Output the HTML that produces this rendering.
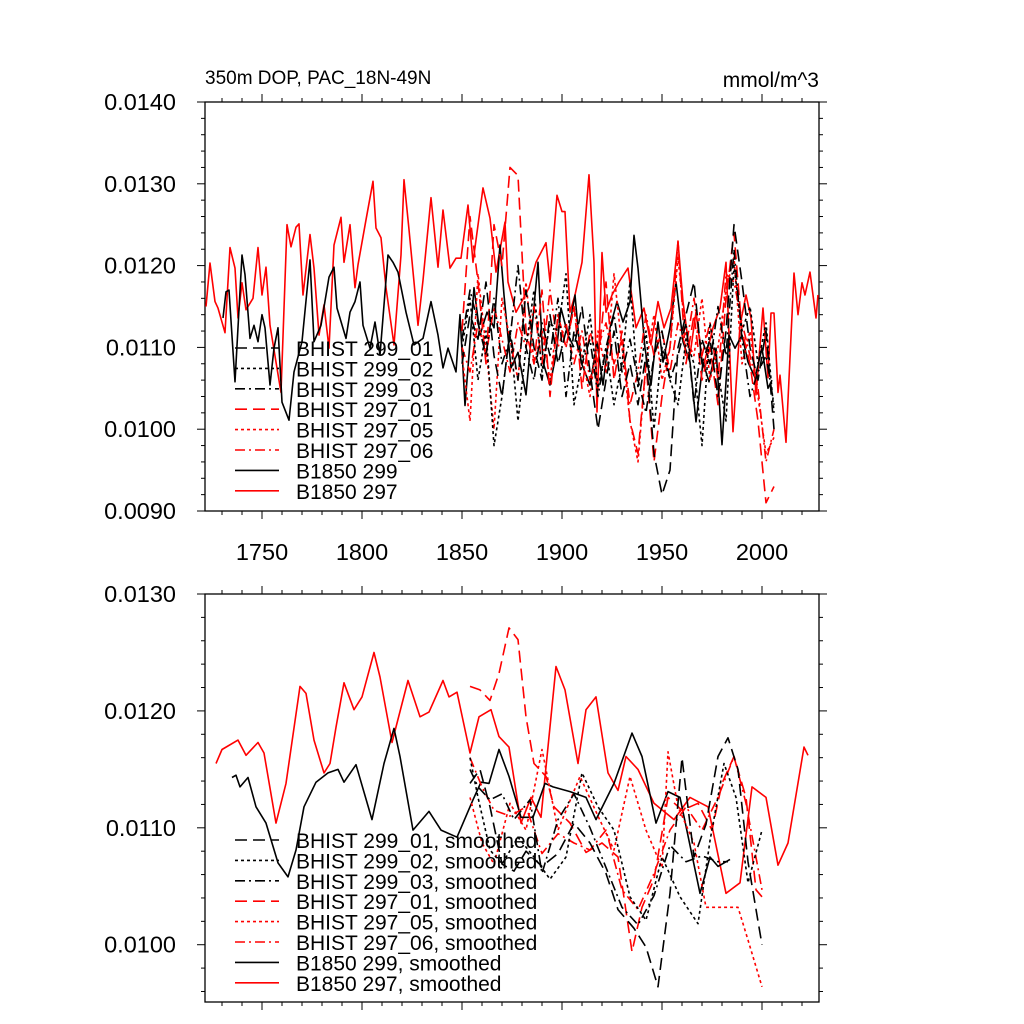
<!DOCTYPE html>
<html><head><meta charset="utf-8"><style>
html,body{margin:0;padding:0;background:#fff;}
svg{display:block;font-family:"Liberation Sans",sans-serif;}
</style></head><body>
<svg id="chart" width="1024" height="1024" viewBox="0 0 1024 1024"></svg>
<script>
// ---------- data (values in units of 1e-4 mmol/m^3) ----------
const redSolidYears=[1722,1724,1726.5,1728,1731.5,1734,1736.5,1738,1740,1742,1745.5,1748,1750,1752,1754,1757,1759.5,1762.5,1764.5,1767,1768.5,1770.5,1774,1776,1778.5,1781,1783.5,1786,1789.5,1791,1794,1796.5,1798,1802,1805.5,1807,1809.5,1812,1816,1819.5,1821,1823.5,1826,1828,1830.5,1834.5,1838,1840.5,1844,1847,1849.5,1853,1855.5,1860.5,1864,1867,1871.5,1873,1877,1883.5,1887,1892,1894,1897.5,1900,1901.5,1904,1906.5,1910,1913.5,1916,1917.5,1920,1922,1925,1928.5,1933,1937,1941,1944.5,1948,1951,1954.5,1958,1960.5,1964,1967,1970.5,1975.5,1979,1982,1985.5,1989,1992,1994.5,1997,2000.5,2003,2004.5,2006,2008,2009,2012,2016,2018,2020,2021.5,2024,2027,2028];
const redSolidVals=[115.0,120.3,115.6,114.8,111.8,122.2,119.7,113.6,117.9,114.6,116.0,122.2,116.4,119.8,112.7,108.2,104.5,125.0,122.3,124.7,125.1,116.4,123.8,119.7,111.5,115.2,109.9,122.5,125.9,120.4,125.0,117.3,120.1,125.6,130.3,124.6,123.4,117.3,110.3,121.3,130.5,124.4,118.0,112.7,118.2,128.3,119.8,126.8,119.7,120.9,120.9,127.4,120.4,129.5,125.8,119.2,125.3,118.0,114.3,117.3,120.4,122.8,118.0,128.6,126.6,126.6,114.3,116.4,120.4,131.1,120.4,102.1,121.6,114.3,116.4,118.0,119.7,112.4,114.8,110.3,115.6,112.4,114.8,122.9,115.6,109.1,114.3,107.5,112.4,114.8,120.4,99.7,112.7,116.4,113.6,104.2,114.8,106.3,114.2,114.2,104.5,106.6,98.4,119.1,114.0,117.9,116.4,119.2,113.6,116.4];
const blackSolidYears=[1730.5,1732,1733.5,1736.5,1740,1741.5,1744,1746,1748,1750,1751.5,1754,1756,1758,1760,1763.5,1766,1770,1774,1776,1779.5,1783.5,1786,1787.5,1792,1794,1796.5,1799,1800.5,1804,1806.5,1809,1813,1815.5,1818,1822,1826,1830.5,1834.5,1838,1840.5,1843,1847,1849,1851.5,1853.5,1856,1859,1862.5,1866,1869,1871,1874.5,1878,1882,1888,1890.5,1894,1897,1899.5,1903,1906.5,1909.5,1914,1917.5,1920.5,1924,1927.5,1930.5,1934,1936,1938,1941.5,1944.5,1948,1950.5,1954,1957,1960.5,1964,1967,1970.5,1973.5,1977,1980,1983.5,1986.5,1990,1993,1996.5,2000,2003,2005];
const blackSolidVals=[113.6,116.8,117.0,105.8,121.3,118.9,111.1,112.7,110.7,114.0,112.4,105.4,109.9,112.4,103.3,101.1,107.0,110.7,120.7,110.7,112.7,118.6,119.8,114.8,111.1,114.3,115.6,118.0,112.7,109.9,113.1,109.1,121.3,120.4,119.2,114.3,110.3,111.1,115.6,111.5,107.5,109.9,107.0,114.0,102.9,109.1,117.3,111.5,114.3,112.4,122.5,116.4,107.5,109.4,104.2,120.4,108.2,105.4,109.1,114.8,111.5,116.4,108.2,105.4,110.7,105.4,112.4,115.6,113.1,115.6,123.7,119.7,109.9,105.4,113.1,108.2,112.4,118.0,110.7,108.2,100.9,108.2,105.8,109.9,98.1,111.5,109.9,111.5,108.2,106.3,109.9,105.0,106.0];
const histYears=[1850,1854,1858,1862,1866,1870,1874,1878,1882,1886,1890,1894,1898,1902,1906,1910,1914,1918,1922,1926,1930,1934,1938,1942,1946,1950,1954,1958,1962,1966,1970,1974,1978,1982,1986,1990,1994,1998,2002,2006];
const h299_01=[108,114,111,118,109,104,112,106,117,110,106,114,108,112,110,115,107,100,106,112,104,108,103,109,97,92,95,110,114,118,108,111,104,112,125,118,110,106,112,100];
const h299_02=[110,116,106,112,98,104,112,101,110,117,107,113,112,119,103,108,114,105,110,103,108,118,105,112,100,110,106,103,111,108,98,113,107,101,120,112,115,108,113,102];
const h299_03=[111,117,113,109,116,108,111,120,110,106,113,109,116,104,112,108,111,104,110,114,107,111,106,102,109,112,106,109,113,103,111,108,115,109,122,111,104,107,109,103];
const h297_01=[112,126,118,108,125,120,132,131,112,108,117,104,114,110,115,105,112,108,118,106,112,101,97,108,96,104,110,123,108,114,106,110,103,116,124,112,108,101,91,93];
const h297_05=[109,101,119,110,100,116,111,106,118,108,112,106,114,110,115,109,104,112,107,119,110,101,96,108,114,106,110,121,111,109,116,106,110,117,121,108,112,104,97,99];
const h297_06=[110,107,113,109,115,111,107,113,110,115,108,117,110,113,108,112,106,110,113,108,111,103,107,114,109,112,107,113,110,116,109,113,106,119,118,113,109,105,96,100];
// smoothed
const sRedYears=[1727,1730,1738,1742,1748,1751,1757,1762,1769,1772,1776,1781,1784,1787,1791,1796,1800,1806,1809,1815,1823,1829,1833.5,1840.5,1843.5,1847.5,1854,1858.5,1864.5,1868.5,1873.5,1879.5,1884.5,1889.5,1897,1901.5,1908,1912,1917,1923,1928,1932,1938,1946,1956,1964,1973,1982,1989,1995,2002,2008,2013,2021,2023];
const sRedVals=[115.5,116.7,117.5,116.2,117.3,116.4,110.4,113.8,122.1,121.5,117.5,114.7,115.5,118.6,122.4,120.1,121.2,125.0,122.9,117.3,122.6,119.5,119.9,122.6,121.2,121.6,116.4,119.5,120.1,117.8,116.9,110.4,112.6,110.9,123.8,121.8,115.5,120.1,121.2,114.7,113.2,116.1,115.0,112.1,110.7,112.6,111.8,104.4,105.3,113.5,112.6,106.8,108.7,116.9,116.2];
const sBlackYears=[1735,1737,1739,1743,1747,1752,1758,1763,1767,1771,1777,1783,1788,1791,1797,1805,1811,1816,1819,1825.5,1833.5,1839.5,1847.5,1855.5,1859.5,1863.5,1868.5,1873.5,1879.5,1885.5,1891.5,1895.5,1904,1912,1917,1926,1935,1940,1947,1953,1959,1969,1974,1978,1984];
const sBlackVals=[114.3,114.5,113.5,114.3,111.8,110.4,107.0,105.8,108.1,111.8,113.9,114.7,115.0,113.9,115.4,110.7,115.5,118.5,116.1,109.8,111.4,109.8,109.2,112.4,113.9,113.8,116.7,114.4,110.9,110.9,113.8,113.5,113.1,112.6,110.7,113.8,118.1,116.1,110.4,113.1,112.6,104.4,107.5,106.7,107.3];
const s297_01Years=[1854,1859,1864,1868.5,1873.5,1878,1882,1886,1892,1896,1904,1912,1920,1928,1935,1940,1946,1953,1960,1968,1975,1980,1986,1992,1997,2000];
const s297_01Vals=[122.1,121.8,120.9,123.2,127.1,126.1,119.5,115.5,114.4,111.8,110.4,107.9,108.7,107.5,99.4,103.2,105.6,112.6,111.5,112.1,109.8,113.8,116.1,112.6,104.7,104.1];
const s299_01Years=[1854,1859,1864,1870,1876,1882,1890,1898,1906,1914,1922,1928,1936,1942,1948,1954,1960,1966,1972,1978,1983,1988,1993,1998,2000];
const s299_01Vals=[113.8,115.0,111.8,106.9,106.3,108.0,106.7,107.8,110.4,108.7,106.1,103.0,101.4,99.8,96.4,104.4,116.0,107.5,110.3,116.1,117.7,115.0,107.1,102.0,100.0];
const s299_02Years=[1854,1858,1864,1870,1878,1886,1894,1902,1910,1918,1926,1934,1942,1950,1959,1968,1974,1981,1987,1993,2000];
const s299_02Vals=[116.0,112.6,108.1,106.9,109.2,107.5,105.6,107.5,114.7,111.8,109.8,104.1,102.1,107.5,104.1,101.8,108.9,115.5,112.6,105.3,109.8];
const s299_03Years=[1854,1858,1864,1870,1876,1884,1890,1898,1906,1914,1922,1930,1938,1946,1954,1962,1970,1978,1983];
const s299_03Vals=[115.0,113.5,112.4,112.9,110.7,112.4,106.1,110.7,112.9,110.0,106.6,103.2,101.7,104.2,108.5,107.1,107.6,107.1,107.1];
const s297_05Years=[1854,1860,1866,1874,1882,1890,1898,1909,1918,1926,1934,1942,1950,1953,1958,1966,1972,1978,1988,1993,2000];
const s297_05Vals=[112.6,108.7,106.9,112.1,109.8,116.7,109.8,114.4,111.0,108.1,114.4,109.8,106.6,116.5,111.8,108.7,103.2,103.2,103.2,100.4,96.4];
const s297_06Years=[1854,1860,1866,1874,1882,1890,1898,1906,1914,1922,1930,1938,1946,1954,1962,1970,1978,1986,1992,2000];
const s297_06Vals=[116.0,113.5,111.5,111.0,111.8,107.8,109.5,108.7,108.1,109.8,104.7,103.0,106.1,109.8,111.8,109.8,112.6,116.1,112.1,104.7];
const xTicks=[1750,1800,1850,1900,1950,2000];
const topYTicks=["0.0090","0.0100","0.0110","0.0120","0.0130","0.0140"];
const botYTicks=["0.0100","0.0110","0.0120","0.0130"];
const legendTop=["BHIST 299_01","BHIST 299_02","BHIST 299_03","BHIST 297_01","BHIST 297_05","BHIST 297_06","B1850 299","B1850 297"];
const legendBot=legendTop.map(s=>s+", smoothed");

// ---------- drawing ----------
const NS="http://www.w3.org/2000/svg";
const svgEl=document.getElementById('chart');
function mk(tag,attrs,parent){const e=document.createElementNS(NS,tag);for(const k in attrs)e.setAttribute(k,attrs[k]);(parent||svgEl).appendChild(e);return e;}
const X0=205,X1=819,YR0=1721.5,YR1=2028.5;
const xs=y=>X0+(y-YR0)/(YR1-YR0)*(X1-X0);
const panelTop={y0:102,y1:511,v0:90,v1:140};
const panelBot={y0:594,y1:1002,v0:95.1,v1:130};
const ys=(p,v)=>p.y1-(v-p.v0)/(p.v1-p.v0)*(p.y1-p.y0);
const styles=[
 {c:"#000",d:"12,6"},{c:"#000",d:"3,3"},{c:"#000",d:"10,4,2,4"},
 {c:"#f00",d:"12,6"},{c:"#f00",d:"3,3"},{c:"#f00",d:"10,4,2,4"},
 {c:"#000",d:""},{c:"#f00",d:""}];
function series(p,g,years,vals,st,name){
  const pts=years.map((yr,i)=>xs(yr).toFixed(1)+","+ys(p,vals[i]).toFixed(1)).join(" ");
  const a={points:pts,fill:"none",stroke:st.c,"stroke-width":1.6,"stroke-linejoin":"round"};
  if(st.d)a["stroke-dasharray"]=st.d;
  const el=mk("polyline",a,g);
  
  
}
function frame(p,ticks,labels,prefix,showX){
  const g=mk("g",{});
  
  
  mk("rect",{x:X0,y:p.y0,width:X1-X0,height:p.y1-p.y0,fill:"none",stroke:"#000","stroke-width":1.3},g);
  for(let yr=1730;yr<=2020;yr+=10){
    const L=(yr%50===0)?8:4,x=xs(yr);
    mk("line",{x1:x,x2:x,y1:p.y0,y2:p.y0-L,stroke:"#000","stroke-width":1},g);
    mk("line",{x1:x,x2:x,y1:p.y1,y2:p.y1+L,stroke:"#000","stroke-width":1},g);
  }
  for(let v=Math.ceil(p.v0/2)*2;v<=p.v1+0.01;v+=2){
    const L=(Math.abs(v%10)<0.01)?8:4,y=ys(p,v);
    mk("line",{x1:X0,x2:X0-L,y1:y,y2:y,stroke:"#000","stroke-width":1},g);
    mk("line",{x1:X1,x2:X1+L,y1:y,y2:y,stroke:"#000","stroke-width":1},g);
  }
  labels.forEach(s=>{const v=parseFloat(s)*1e4;const t=mk("text",{x:176,y:ys(p,v)+8,"text-anchor":"end","font-size":23.5},g);t.textContent=s;
    
    });
  if(showX) ticks.forEach(yr=>{const t=mk("text",{x:xs(yr),y:p.y1+49,"text-anchor":"middle","font-size":23.5},g);t.textContent=yr;
    
    });
  return g;
}
function legend(labels,y0,prefix){
  const g=mk("g",{});
  
  
  labels.forEach((s,i)=>{
    const y=y0+i*20.4, st=styles[i];
    const a={x1:235,x2:279,y1:y,y2:y,stroke:st.c,"stroke-width":1.6};
    if(st.d)a["stroke-dasharray"]=st.d;
    mk("line",a,g);
    const t=mk("text",{x:296,y:y+8,"font-size":21},g);t.textContent=s;
    
    
  });
}
// top panel
frame(panelTop,xTicks,topYTicks,"top",true);
const gt=mk("g",{});


series(panelTop,gt,redSolidYears,redSolidVals,styles[7],"b1850-297-line");
series(panelTop,gt,blackSolidYears,blackSolidVals,styles[6],"b1850-299-line");
series(panelTop,gt,histYears,h297_01,styles[3],"bhist-297-01-line");
series(panelTop,gt,histYears,h297_05,styles[4],"bhist-297-05-line");
series(panelTop,gt,histYears,h297_06,styles[5],"bhist-297-06-line");
series(panelTop,gt,histYears,h299_01,styles[0],"bhist-299-01-line");
series(panelTop,gt,histYears,h299_02,styles[1],"bhist-299-02-line");
series(panelTop,gt,histYears,h299_03,styles[2],"bhist-299-03-line");
legend(legendTop,348,"top");
// bottom panel
frame(panelBot,xTicks,botYTicks,"bottom",false);
const gb=mk("g",{});


series(panelBot,gb,sRedYears,sRedVals,styles[7],"b1850-297-smoothed");
series(panelBot,gb,sBlackYears,sBlackVals,styles[6],"b1850-299-smoothed");
series(panelBot,gb,s297_01Years,s297_01Vals,styles[3],"bhist-297-01-smoothed");
series(panelBot,gb,s297_05Years,s297_05Vals,styles[4],"bhist-297-05-smoothed");
series(panelBot,gb,s297_06Years,s297_06Vals,styles[5],"bhist-297-06-smoothed");
series(panelBot,gb,s299_01Years,s299_01Vals,styles[0],"bhist-299-01-smoothed");
series(panelBot,gb,s299_02Years,s299_02Vals,styles[1],"bhist-299-02-smoothed");
series(panelBot,gb,s299_03Years,s299_03Vals,styles[2],"bhist-299-03-smoothed");
legend(legendBot,840,"bottom");
// titles
const t1=mk("text",{x:205,y:84,"font-size":19});t1.textContent="350m DOP, PAC_18N-49N";


const t2=mk("text",{x:819,y:87,"font-size":21,"text-anchor":"end"});t2.textContent="mmol/m^3";


</script>
</body></html>
